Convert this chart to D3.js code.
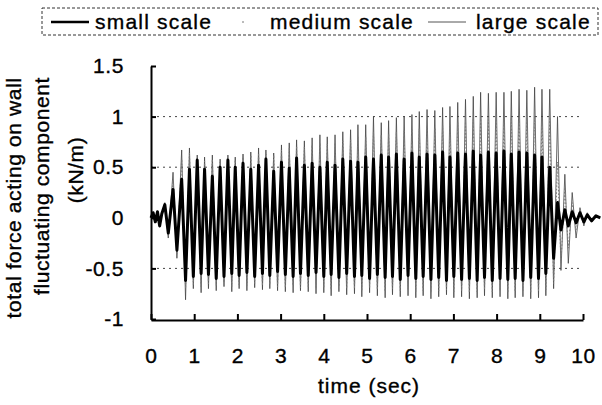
<!DOCTYPE html>
<html><head><meta charset="utf-8">
<script src="https://cdn.jsdelivr.net/npm/d3@7/dist/d3.min.js"></script>
<style>
html,body{margin:0;padding:0;background:#fff;}
text{font-family:"Liberation Sans",Arial,sans-serif;fill:#000;stroke:#000;stroke-width:0.35px;}
</style></head>
<body><svg id="c" width="602" height="405"></svg>
<script>
// ---- data ----
const timeTicks = [0,1,2,3,4,5,6,7,8,9,10];
const forceTicks = [-1,-0.5,0,0.5,1,1.5];
const forceTickLabels = ["-1","-0.5","0","0.5","1","1.5"];
const gridValues = [1,0.5,-0.5];
const seriesNames = ["small scale","medium scale","large scale"];

// start-up portion (before regular oscillation)
const preTime   = [0.00,0.05,0.10,0.15,0.20,0.25,0.32,0.40,0.51,0.60];
const smallPre  = [0.00,0.05,-0.04,0.06,-0.08,0.04,0.13,-0.15,0.28,-0.32];
const mediumPre = [0.00,0.04,-0.03,0.05,-0.07,0.04,0.14,-0.18,0.36,-0.36];
const largePre  = [0.00,0.04,-0.03,0.05,-0.06,0.04,0.15,-0.20,0.45,-0.40];

// regular oscillation: times of crests and troughs
const crestTime = [0.71,0.89,1.07,1.24,1.42,1.60,1.78,1.95,2.13,2.31,
  2.49,2.66,2.84,3.02,3.20,3.37,3.55,3.73,3.91,4.08,
  4.26,4.44,4.62,4.79,4.97,5.15,5.33,5.50,5.68,5.86,
  6.04,6.21,6.39,6.57,6.75,6.92,7.10,7.28,7.46,7.63,
  7.81,7.99,8.17,8.34,8.52,8.70,8.88,9.05,9.23];
const troughTime = [0.80,0.98,1.16,1.33,1.51,1.69,1.87,2.04,2.22,2.40,
  2.58,2.75,2.93,3.11,3.29,3.46,3.64,3.82,4.00,4.17,
  4.35,4.53,4.71,4.88,5.06,5.24,5.42,5.59,5.77,5.95,
  6.13,6.30,6.48,6.66,6.84,7.01,7.19,7.37,7.55,7.72,
  7.90,8.08,8.26,8.43,8.61,8.79,8.97,9.14,9.32];

const smallMax = [0.38,0.48,0.57,0.48,0.41,0.50,0.57,0.50,0.54,0.48,
  0.52,0.58,0.46,0.55,0.49,0.59,0.52,0.54,0.50,0.55,
  0.52,0.58,0.56,0.55,0.60,0.58,0.62,0.60,0.63,0.58,
  0.64,0.60,0.63,0.62,0.65,0.60,0.64,0.63,0.66,0.62,
  0.65,0.64,0.66,0.63,0.65,0.64,0.62,0.60,0.50];
const smallMin = [-0.62,-0.58,-0.55,-0.56,-0.60,-0.58,-0.55,-0.57,-0.54,
  -0.58,-0.55,-0.57,-0.53,-0.56,-0.58,-0.55,-0.57,-0.54,-0.58,
  -0.56,-0.59,-0.55,-0.58,-0.57,-0.60,-0.56,-0.59,-0.58,-0.61,
  -0.57,-0.60,-0.58,-0.61,-0.59,-0.62,-0.58,-0.61,-0.60,-0.62,
  -0.59,-0.62,-0.60,-0.61,-0.60,-0.62,-0.59,-0.60,-0.55,-0.40];
const mediumMax = [0.58,0.64,0.58,0.56,0.58,0.55,0.58,0.57,0.60,
  0.62,0.64,0.63,0.62,0.67,0.69,0.71,0.70,0.72,0.74,
  0.73,0.74,0.76,0.77,0.80,0.80,0.85,0.82,0.83,0.85,
  0.86,0.87,0.88,0.90,0.89,0.91,0.92,0.94,0.95,0.97,
  0.98,0.97,0.98,0.98,0.99,1.00,0.99,1.01,1.00,0.98];
const mediumMin = [-0.70,-0.66,-0.68,-0.65,-0.67,-0.64,-0.68,-0.66,-0.67,
  -0.65,-0.67,-0.66,-0.68,-0.69,-0.67,-0.69,-0.68,-0.70,-0.69,
  -0.71,-0.68,-0.70,-0.70,-0.72,-0.69,-0.71,-0.73,-0.70,-0.72,
  -0.71,-0.73,-0.72,-0.74,-0.72,-0.71,-0.73,-0.72,-0.74,-0.73,
  -0.71,-0.73,-0.72,-0.74,-0.73,-0.72,-0.74,-0.73,-0.71,-0.65];
const largeMax = [0.67,0.69,0.62,0.60,0.62,0.58,0.62,0.60,0.63,
  0.65,0.69,0.67,0.64,0.72,0.74,0.77,0.76,0.79,0.82,
  0.80,0.82,0.85,0.87,0.92,0.92,1.00,0.94,0.96,0.99,
  1.00,1.02,1.05,1.07,1.06,1.09,1.10,1.14,1.17,1.20,
  1.24,1.23,1.24,1.24,1.25,1.27,1.26,1.29,1.27,1.27];
const largeMin = [-0.81,-0.70,-0.74,-0.70,-0.72,-0.68,-0.73,-0.70,-0.72,
  -0.69,-0.71,-0.70,-0.72,-0.73,-0.74,-0.72,-0.73,-0.75,-0.74,
  -0.77,-0.73,-0.76,-0.75,-0.78,-0.74,-0.77,-0.79,-0.76,-0.78,
  -0.77,-0.79,-0.77,-0.80,-0.78,-0.76,-0.79,-0.78,-0.80,-0.79,
  -0.77,-0.79,-0.78,-0.80,-0.79,-0.78,-0.80,-0.79,-0.77,-0.70];

// decay after the wave train
const postTime   = [9.41,9.49,9.58,9.66,9.75,9.84,9.93,10.02,10.10,10.20,10.30,10.40];
const smallPost  = [0.15,-0.12,0.08,-0.08,0.06,-0.05,0.05,-0.04,0.03,-0.03,0.02,0.00];
const mediumPost = [0.55,-0.45,0.30,-0.30,0.15,-0.12,0.08,-0.06,0.04,-0.03,0.02,0.00];
const largePost  = [1.00,-0.52,0.43,-0.45,0.25,-0.20,0.10,-0.08,0.05,-0.04,0.02,0.00];

// ---- build point lists ----
function build(pre, mx, mn, post){
  const pts = preTime.map((t,i)=>[t, pre[i]]);
  crestTime.forEach((t,i)=>{ pts.push([t, mx[i]]); pts.push([troughTime[i], mn[i]]); });
  postTime.forEach((t,i)=>pts.push([t, post[i]]));
  return pts;
}
const series = [
  {name:"large",  pts: build(largePre, largeMax, largeMin, largePost)},
  {name:"medium", pts: build(mediumPre, mediumMax, mediumMin, mediumPost)},
  {name:"small",  pts: build(smallPre, smallMax, smallMin, smallPost)}
];

const svg = d3.select("#c");
const x = d3.scaleLinear().domain([0,10]).range([151,583]);
const y = d3.scaleLinear().domain([-1,1.5]).range([319,66]);
const FONT = 21;

// grid
svg.append("g").selectAll("line").data(gridValues).join("line")
  .attr("x1", x(0)).attr("x2", x(10))
  .attr("y1", d=>y(d)).attr("y2", d=>y(d))
  .attr("stroke","#444").attr("stroke-width",1).attr("stroke-dasharray","2,4");

const line = d3.line().x(d=>x(d[0])).y(d=>y(d[1]));
const styles = {
  large:  {stroke:"#444", w:0.8, dash:null},
  medium: {stroke:"#777", w:1, dash:"1.5,2"},
  small:  {stroke:"#000", w:3, dash:null}
};
series.forEach(s=>{
  const st = styles[s.name];
  svg.append("path").attr("d", line(s.pts)).attr("fill","none")
    .attr("stroke", st.stroke).attr("stroke-width", st.w)
    .attr("stroke-dasharray", st.dash).attr("stroke-linejoin","round");
});

// axes
const yAxis = d3.axisLeft(y).tickValues(forceTicks)
  .tickFormat((d,i)=>forceTickLabels[i]).tickSizeInner(-5).tickSizeOuter(0).tickPadding(27);
const gy = svg.append("g").attr("transform",`translate(${x(0)},0)`).call(yAxis);
const xAxis = d3.axisBottom(x).tickValues(timeTicks).tickFormat(d3.format("d"))
  .tickSizeInner(-6).tickSizeOuter(0).tickPadding(28);
const gx = svg.append("g").attr("transform",`translate(0,${y(-1)+1})`).call(xAxis);
[gx,gy].forEach(g=>{
  g.select(".domain").attr("stroke","#000").attr("stroke-width",2);
  g.selectAll(".tick line").attr("stroke","#000").attr("stroke-width",2);
  g.selectAll("text").attr("font-size",FONT).attr("font-family","Liberation Sans, Arial, sans-serif").attr("fill","#000").attr("letter-spacing","0.6px");
});

// axis titles
svg.append("text").attr("x",(x(0)+x(10))/2+2).attr("y",393).attr("text-anchor","middle")
  .attr("font-size",FONT).attr("letter-spacing","1px").text("time (sec)");
const yTitle = [
  {t:"total force acting on wall", bx:21, cy:198},
  {t:"fluctuating component", bx:49, cy:186},
  {t:"(kN/m)", bx:83, cy:170}
];
yTitle.forEach(l=>{
  svg.append("text").attr("transform",`translate(${l.bx},${l.cy}) rotate(-90)`)
    .attr("text-anchor","middle").attr("font-size",FONT).attr("letter-spacing","0.6px").text(l.t);
});

// legend
const lg = svg.append("g");
lg.append("rect").attr("x",42).attr("y",8).attr("width",556).attr("height",27)
  .attr("fill","none").attr("stroke","#333").attr("stroke-width",1).attr("stroke-dasharray","3,2");
lg.append("line").attr("x1",51).attr("x2",89).attr("y1",22).attr("y2",22).attr("stroke","#000").attr("stroke-width",2.5);
lg.append("text").attr("x",95).attr("y",29).attr("font-size",FONT).attr("letter-spacing","1.2px").text(seriesNames[0]);
lg.append("line").attr("x1",226).attr("x2",262).attr("y1",22).attr("y2",22).attr("stroke","#777").attr("stroke-width",1).attr("stroke-dasharray","0,16,2,40");
lg.append("text").attr("x",270).attr("y",29).attr("font-size",FONT).attr("letter-spacing","1.2px").text(seriesNames[1]);
lg.append("line").attr("x1",428).attr("x2",466).attr("y1",22).attr("y2",22).attr("stroke","#555").attr("stroke-width",1);
lg.append("text").attr("x",476).attr("y",29).attr("font-size",FONT).attr("letter-spacing","1.2px").text(seriesNames[2]);
</script></body></html>
